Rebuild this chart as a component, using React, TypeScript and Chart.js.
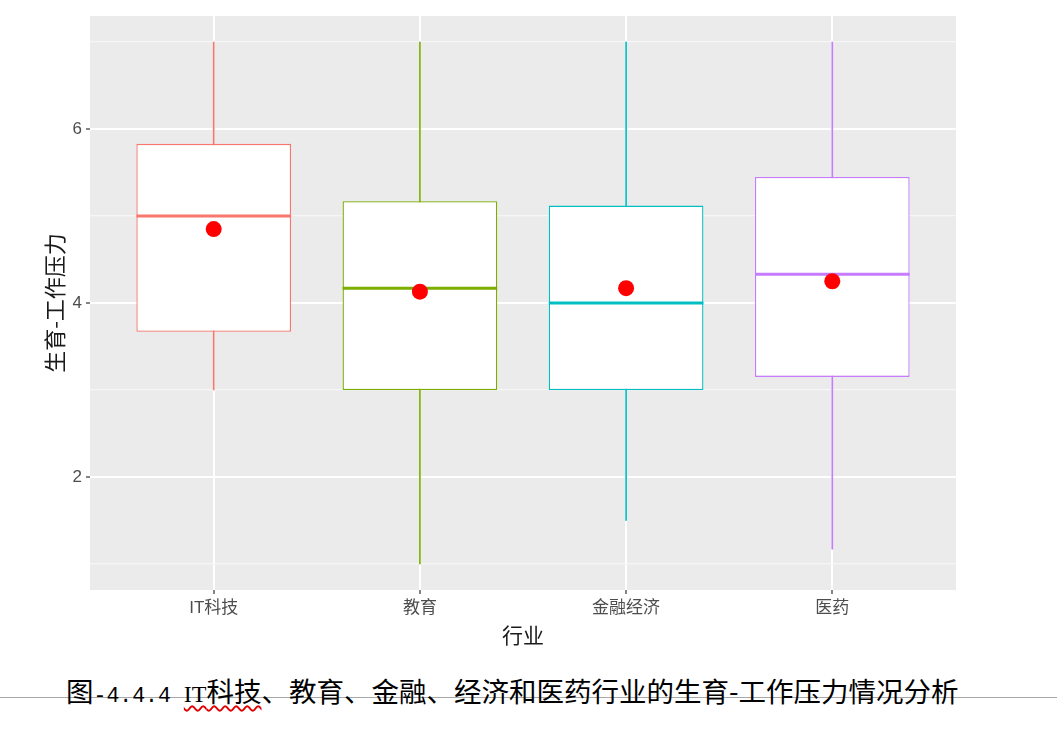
import React, { useEffect, useRef } from 'react';
import { Chart, registerables } from 'chart.js';
Chart.register(...registerables);

const categories = ['IT科技', '教育', '金融经济', '医药'];
const whiskerLow = [3.0, 1.0, 1.5, 1.17];
const q1 = [3.67, 3.0, 3.0, 3.15];
const medians = [5.0, 4.17, 4.0, 4.33];
const q3 = [5.83, 5.17, 5.12, 5.45];
const whiskerHigh = [7, 7, 7, 7];
const means = [4.85, 4.13, 4.17, 4.25];
const colors = ['#F8766D', '#7CAE00', '#00BFC4', '#C77CFF'];
const yTicks = [1, 2, 3, 4, 5, 6, 7];
const yLabelled = [2, 4, 6];
const yTitle = '生育-工作压力';
const xTitle = '行业';

const tickFont = { family: "'Liberation Sans', 'Noto Sans CJK SC', sans-serif", size: 17 };
const titleFont = { family: "'Noto Sans CJK SC', sans-serif", size: 21 };
const yTitleFont = { family: "'Noto Sans CJK SC', sans-serif", size: 22 };

const panelBg = {
  id: 'panelBg',
  beforeDraw(chart: any) {
    const { ctx, chartArea } = chart;
    ctx.save();
    ctx.fillStyle = '#EBEBEB';
    ctx.fillRect(chartArea.left, chartArea.top, chartArea.right - chartArea.left, chartArea.bottom - chartArea.top);
    ctx.restore();
  },
};

function BoxChart() {
  const ref = useRef<HTMLCanvasElement>(null);
  useEffect(() => {
    if (!ref.current) return;
    const isMajor = (ctx: any) => ctx.tick && yLabelled.includes(ctx.tick.value);
    const chart = new Chart(ref.current, {
      type: 'bar',
      data: {
        datasets: [
          {
            type: 'bar',
            data: categories.map((_, i) => ({ x: i + 1, y: [whiskerLow[i], whiskerHigh[i]] })),
            backgroundColor: colors,
            borderWidth: 0,
            barThickness: 1,
            grouped: false,
            order: 4,
          } as any,
          {
            type: 'bar',
            data: categories.map((_, i) => ({ x: i + 1, y: [q1[i], q3[i]] })),
            backgroundColor: '#FFFFFF',
            borderColor: colors,
            borderWidth: 1.3,
            borderSkipped: false,
            categoryPercentage: 1,
            barPercentage: 0.75,
            grouped: false,
            order: 3,
          } as any,
          {
            type: 'scatter',
            data: categories.map((_, i) => ({ x: i + 1, y: medians[i] })),
            pointStyle: 'line',
            pointRadius: (c: any) => {
              const s = c.chart.scales.x;
              return Math.abs(s.getPixelForValue(1.375) - s.getPixelForValue(1));
            },
            borderColor: colors,
            borderWidth: 3,
            order: 2,
          } as any,
          {
            type: 'scatter',
            data: categories.map((_, i) => ({ x: i + 1, y: means[i] })),
            pointStyle: 'circle',
            pointRadius: 8,
            backgroundColor: '#FF0000',
            borderWidth: 0,
            order: 1,
          } as any,
        ],
      },
      options: {
        responsive: false,
        animation: false,
        events: [],
        layout: { padding: { left: 0, right: 101, top: 16, bottom: 0 } },
        plugins: { legend: { display: false }, tooltip: { enabled: false }, title: { display: false } },
        scales: {
          x: {
            type: 'linear',
            offset: false,
            min: 0.4,
            max: 4.6,
            afterBuildTicks: (s: any) => {
              s.ticks = categories.map((_, i) => ({ value: i + 1 }));
            },
            afterFit: (s: any) => {
              s.height = 70;
            },
            ticks: {
              callback: (v: any) => categories[Math.round(Number(v)) - 1] ?? '',
              font: tickFont,
              color: '#4D4D4D',
              padding: 4,
              autoSkip: false,
              maxRotation: 0,
            },
            grid: { offset: false, color: '#FFFFFF', lineWidth: 2, tickColor: '#333333', tickLength: 4, tickWidth: 1.2 },
            border: { display: false },
            title: { display: true, text: xTitle, font: titleFont, color: '#1A1A1A', padding: { top: 0, bottom: 12 } },
          },
          y: {
            type: 'linear',
            min: 0.7,
            max: 7.3,
            afterBuildTicks: (s: any) => {
              s.ticks = yTicks.map((v) => ({ value: v }));
            },
            afterFit: (s: any) => {
              s.width = 90;
            },
            ticks: {
              callback: (v: any) => (yLabelled.includes(Number(v)) ? String(v) : ''),
              font: tickFont,
              color: '#4D4D4D',
              padding: 4,
            },
            grid: {
              color: (c: any) => (isMajor(c) ? '#FFFFFF' : '#F6F6F6'),
              lineWidth: (c: any) => (isMajor(c) ? 2 : 1.3),
              tickColor: (c: any) => (isMajor(c) ? '#333333' : 'rgba(0,0,0,0)'),
              tickLength: 4,
              tickWidth: 1.2,
            },
            border: { display: false },
            title: { display: true, text: yTitle, font: yTitleFont, color: '#1A1A1A', padding: { top: 41, bottom: 0 } },
          },
        },
      } as any,
      plugins: [panelBg],
    });
    return () => chart.destroy();
  }, []);
  return <canvas ref={ref} width={1057} height={660} style={{ position: 'absolute', left: 0, top: 0, width: 1057, height: 660 }} />;
}

export default function App() {
  return (
    <div style={{ position: 'absolute', left: 0, top: 0, width: 1057, height: 739, background: '#FFFFFF', overflow: 'hidden' }}>
      <BoxChart />
      <div style={{ position: 'absolute', left: 0, top: 697, width: 1057, height: 1, background: '#A8A8A8' }} />
      <div
        style={{
          position: 'absolute',
          left: 66,
          top: 675,
          whiteSpace: 'nowrap',
          fontFamily: "'Noto Sans CJK SC', sans-serif",
          fontSize: 27.5,
          lineHeight: '30px',
          color: '#000000',
        }}
      >
        <span>图</span>
        <span style={{ fontFamily: "'Liberation Mono', monospace", fontSize: 21.5 }}>-4.4.4 </span>
        <span style={{ textDecoration: 'underline wavy #E00000', textDecorationThickness: 1.5, textUnderlineOffset: 3 }}>
          <span style={{ fontFamily: "'Liberation Serif', serif", fontSize: 24 }}>IT</span>科技
        </span>
        <span>、教育、金融、经济和医药行业的生育-工作压力情况分析</span>
      </div>
    </div>
  );
}
